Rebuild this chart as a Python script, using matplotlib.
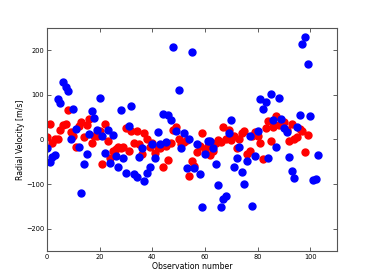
#!/usr/bin/env python3

import numpy as np
import matplotlib
matplotlib.use('Agg')
import matplotlib.pyplot as plt

# Radial velocity values
red_obs = np.arange(0, 100)
red_rv = [4.5, 35, -8, 2, 1, 22, 32, 35, 65, 16.5,
          8, -17, 31, 40, 6, 33, 45.6, -9, 8, 7,
          19, -55, 34, -4, -41, -26, -21.5, -17, -20, -17,
          26, -26, 19.5, -7.4, 19.5, -9.6, -32, 14, 1, -18,
          -8, -30.5, -18, -18.5, -61, -14, -46, -8, 22, 27,
          1, -11, -5, -1, -81, -48, -60, -29, -15.6, 14,
          -22, -14, -35, -25, -9, -0.7, -6, 28, 1, 21.7,
          -1.5, 8, -19, 1.6, 13.5, 19, -32, -27, 8.3, 17,
          8, -7.4, -43, 25.5, 42, -3.6, 29, 51.5, 33, 34.5,
          39.6, 22, -3.6, 33.6, 2, 4.5, 23, 20, -28, 10]

blue_obs = np.arange(0, 104)
blue_rv = [-19, -50, -40, -34, 91, 81, 128, 117, 109, 2,
           68, 23, -18, -120, -56, -33, 13, 63, 48.5, 22,
           94, 8, -31, 22, -53, 10, -36.5, -62, 66, -41,
           -74.5, 31, 74, -78, -84, -40, -18.5, -94, -74.5, -61,
           -10, -42, 17, -10, 57.5, -5, 54.5, 44, 208, 20,
           112, -18.5, 14, -63, 0, 195.5, -63, -9.6, -77, -152,
           -33, -3, -2.5, -20, -54.5, -103, -152, -134, -127, 13.5,
           42.5, -62, -41, -17, -73, -99, -48, 8.3, -150, -38,
           18, 90, 68, 83, -41, 102, 44, -17, 94, 45.6,
           25.5, 16.5, -38.7, -70, -87, 29, 54.5, 214, 230, 169,
           53, -92, -89, -36]

fig = plt.figure(figsize=(3.74, 2.80), dpi=100)
ax = fig.add_axes([0.126, 0.104, 0.774, 0.796])

ax.plot(red_obs, red_rv, 'o', color='r', mec='r', markersize=5)
ax.plot(blue_obs, blue_rv, 'o', color='b', mec='b', markersize=5)

ax.set_xlim(0, 110)
ax.set_ylim(-250, 250)
ax.set_xticks([0, 20, 40, 60, 80, 100])
ax.set_yticks([-200, -100, 0, 100, 200])
ax.tick_params(direction='in', top=True, right=True, length=3, width=0.6,
               labelsize=4.8, pad=2, color='#444444')
for s in ax.spines.values():
    s.set_linewidth(0.8)
    s.set_color('#555555')

ax.set_xlabel('Observation number', fontsize=5.6, labelpad=1.5)
ax.set_ylabel('Radial Velocity [m/s]', fontsize=5.6, labelpad=1)

fig.savefig('out.png', dpi=100)
